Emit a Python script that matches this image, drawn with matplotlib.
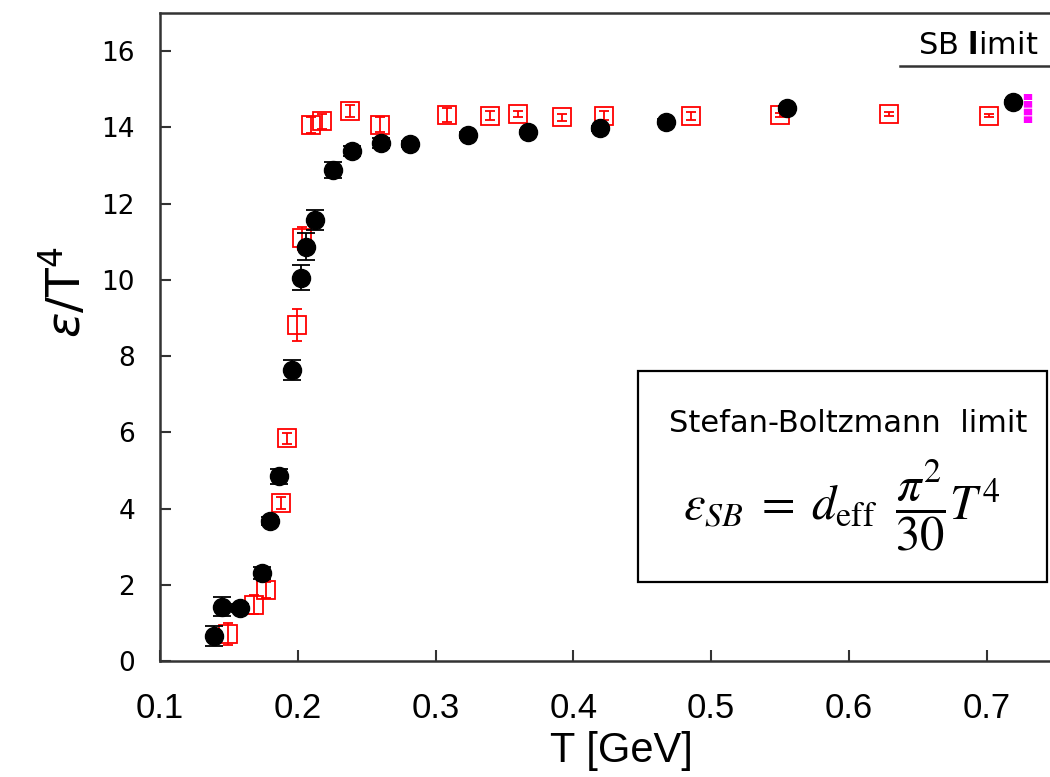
"""Energy density over T^4 versus temperature, with the Stefan-Boltzmann limit."""

import matplotlib
matplotlib.use("Agg")
import matplotlib.pyplot as plt
from matplotlib.patches import Rectangle

# black circles: T [GeV], eps/T^4, error
black_T = [0.1392, 0.1448, 0.158, 0.174, 0.180, 0.1864, 0.1958, 0.2023, 0.2057, 0.2125,
           0.2255, 0.2393, 0.2604, 0.2814, 0.3233, 0.3668, 0.4193, 0.4672, 0.555, 0.719]
black_e = [0.66, 1.42, 1.39, 2.31, 3.67, 4.85, 7.63, 10.05, 10.87, 11.57,
           12.88, 13.38, 13.59, 13.56, 13.80, 13.88, 13.97, 14.15, 14.50, 14.67]
black_err = [0.26, 0.25, 0.10, 0.15, 0.10, 0.20, 0.26, 0.33, 0.35, 0.26,
             0.20, 0.12, 0.12, 0.08, 0.08, 0.06, 0.06, 0.06, 0.06, 0.06]

# red open squares
red_T = [0.149, 0.1685, 0.177, 0.1878, 0.192, 0.1992, 0.2028, 0.2094, 0.2173, 0.2379,
         0.260, 0.308, 0.3395, 0.3598, 0.3915, 0.4222, 0.4851, 0.55, 0.629, 0.7016]
red_e = [0.71, 1.47, 1.86, 4.15, 5.84, 8.81, 11.09, 14.06, 14.16, 14.43,
         14.07, 14.32, 14.30, 14.34, 14.26, 14.30, 14.30, 14.32, 14.35, 14.30]
red_err = [0.30, 0.25, 0.20, 0.15, 0.15, 0.42, 0.30, 0.20, 0.20, 0.15,
           0.20, 0.18, 0.12, 0.08, 0.10, 0.12, 0.10, 0.05, 0.04, 0.04]

# magenta band at the high-T end
mag_T = 0.730
mag_lo, mag_hi = 14.11, 14.87

# SB limit line
sb_level = 15.6
sb_start = 0.637

fig = plt.figure(figsize=(10.5, 7.77), dpi=100)
ax = fig.add_axes([160 / 1050, 116 / 777, 892 / 1050, 648 / 777])

ax.errorbar(red_T, red_e, yerr=red_err, fmt="s", ms=13, mfc="none", mec="#ff0000",
            mew=1.3, ecolor="#ff0000", elinewidth=1.3, capsize=3.5, capthick=1.3, zorder=3)
ax.errorbar(black_T, black_e, yerr=black_err, fmt="o", ms=13, color="black",
            ecolor="black", elinewidth=1.3, capsize=6.5, capthick=1.3, zorder=4)
ax.plot([mag_T, mag_T], [mag_lo, mag_hi], color="#ff00ff", lw=6,
        dashes=(0.8, 0.12), solid_capstyle="butt", dash_capstyle="butt", zorder=5)

ax.plot([sb_start, 0.76], [sb_level, sb_level], color="0.2", lw=1.8, clip_on=False)
ax.text(0.6936, 15.78, r"SB $\mathbf{l}$imit", fontsize=22, ha="center", va="bottom",
        family="DejaVu Sans", math_fontfamily="dejavusans")

ax.set_xlim(0.1, 0.7473)
ax.set_ylim(0, 17)
ax.set_xticks([0.1, 0.2, 0.3, 0.4, 0.5, 0.6, 0.7])
ax.set_yticks(range(0, 17, 2))

for side in ("left", "bottom", "top", "right"):
    ax.spines[side].set_color("0.2")
    ax.spines[side].set_linewidth(1.8)

ax.tick_params(direction="in", length=8, width=1.5, color="0.2")
ax.tick_params(axis="y", pad=18, labelsize=19)
ax.tick_params(axis="x", pad=22, labelsize=25)
for lab in ax.get_xticklabels():
    lab.set_family("Liberation Sans")
for lab in ax.get_yticklabels():
    lab.set_family("DejaVu Sans")

ax.set_xlabel("T [GeV]", fontsize=30, family="Liberation Sans", va="center")
ax.xaxis.set_label_coords((621 - 160) / 892, -(751 - 661) / 648)
ax.set_ylabel(r"$\varepsilon$/T$^4$", fontsize=34, family="DejaVu Sans", va="center")
ax.yaxis.set_label_coords(-(160 - 65) / 892, (661 - 292) / 648)

# inset box with the Stefan-Boltzmann formula
fig.add_artist(Rectangle((638 / 1050, 195 / 777), 409 / 1050, 211 / 777,
                         transform=fig.transFigure, fill=False, ec="black", lw=1.6))
fig.text(848 / 1050, 1 - 423 / 777, "Stefan-Boltzmann  limit", fontsize=22,
         ha="center", va="center", family="DejaVu Sans")
fig.text(842 / 1050, 1 - 505 / 777,
         r"$\varepsilon_{SB} \;=\; d_{\rm eff}\;\; \dfrac{\pi^2}{30}T^4$",
         fontsize=35, ha="center", va="center", math_fontfamily="stix")

fig.savefig("out.png", dpi=100)
